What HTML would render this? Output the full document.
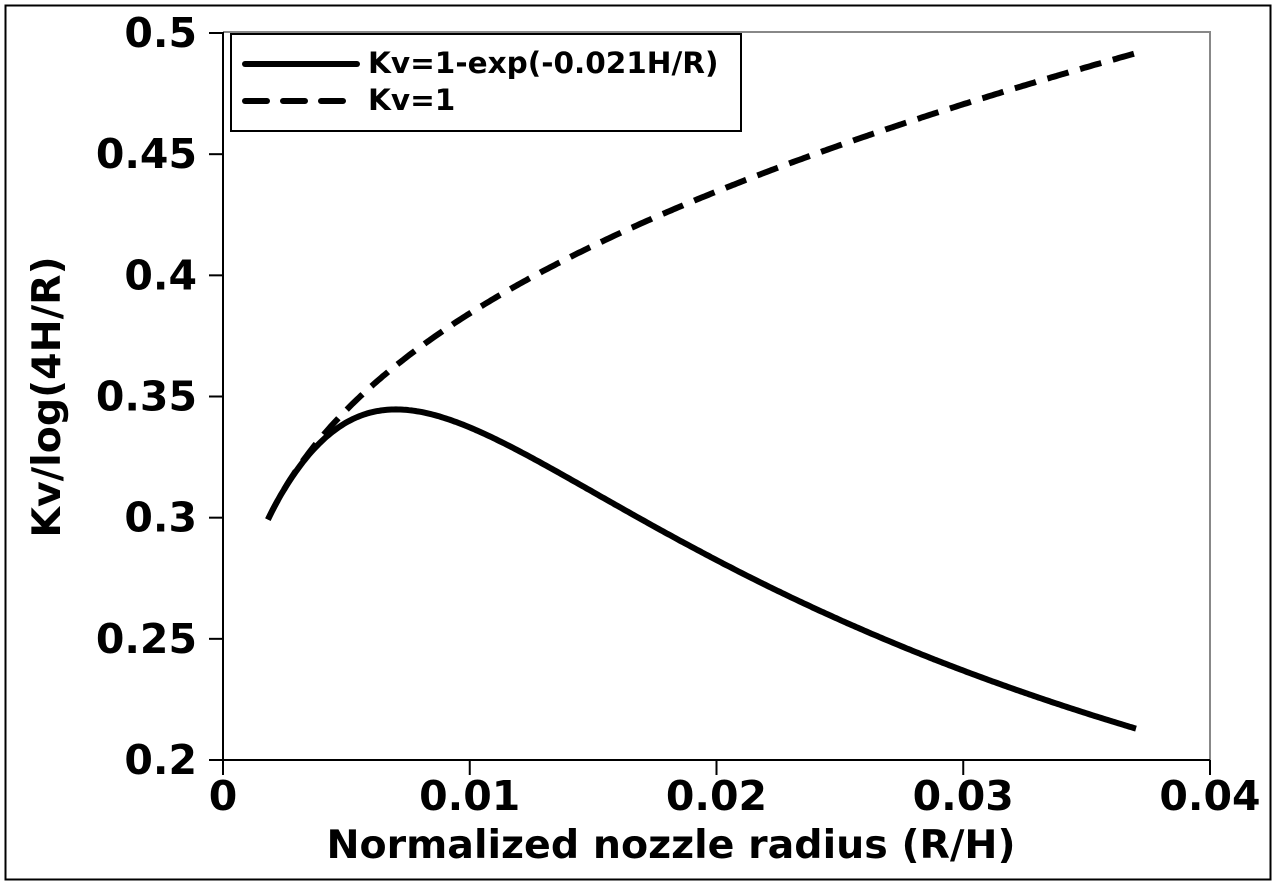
<!DOCTYPE html>
<html><head><style>body{margin:0;background:#fff}svg{display:block}text{font-family:"DejaVu Sans","Liberation Sans",sans-serif;font-weight:bold;fill:#000}</style></head>
<body>
<svg id="s" width="1277" height="886" xmlns="http://www.w3.org/2000/svg">
<rect x="5.5" y="5.5" width="1265" height="874" fill="none" stroke="#000" stroke-width="2"/>
<polyline points="223,32 1210,32 1210,760" fill="none" stroke="#888" stroke-width="2"/>
<line x1="223" y1="32" x2="223" y2="760" stroke="#000" stroke-width="2"/>
<line x1="209" y1="760" x2="1210" y2="760" stroke="#000" stroke-width="2"/>
<g id="ticks" stroke="#000" stroke-width="2"></g>
<g font-size="41" text-anchor="end" id="yl"></g>
<g font-size="41" text-anchor="middle" id="xl"></g>
<text x="671" y="858" font-size="39.5" text-anchor="middle">Normalized nozzle radius (R/H)</text>
<text transform="translate(60,397) rotate(-90)" font-size="39.5" text-anchor="middle">Kv/log(4H/R)</text>
<path id="p1" fill="none" stroke="#000" stroke-width="6"/>
<path id="p2" fill="none" stroke="#000" stroke-width="6" stroke-dasharray="22,12"/>
<rect x="231" y="34" width="510" height="97" fill="#fff" stroke="#000" stroke-width="2"/>
<line x1="245" y1="64" x2="357" y2="64" stroke="#000" stroke-width="6" stroke-linecap="round"/>
<line x1="245" y1="101" x2="357" y2="101" stroke="#000" stroke-width="6" stroke-dasharray="22,16" stroke-linecap="round"/>
<text x="368" y="73" font-size="29.5">Kv=1-exp(-0.021H/R)</text>
<text x="368" y="110" font-size="29.5">Kv=1</text>
</svg>
<script>
const X=v=>223+v*24675, Y=v=>760-(v-0.2)*2423.3;
let t='',yl='',xl='';
[0.2,0.25,0.3,0.35,0.4,0.45,0.5].forEach(v=>{t+=`<line x1="209" x2="223" y1="${Y(v)}" y2="${Y(v)}"/>`;yl+=`<text x="197" y="${Y(v)+14}">${v}</text>`;});
[0,0.01,0.02,0.03,0.04].forEach(v=>{t+=`<line x1="${X(v)}" x2="${X(v)}" y1="760" y2="775"/>`;xl+=`<text x="${X(v)}" y="810">${v}</text>`;});
document.getElementById('ticks').innerHTML=t;document.getElementById('yl').innerHTML=yl;document.getElementById('xl').innerHTML=xl;
let a='',b='';
for(let i=0;i<=400;i++){const x=0.00182+(0.037-0.00182)*i/400;const L=Math.log10(4/x);
a+=(i?'L':'M')+X(x).toFixed(1)+','+Y((1-Math.exp(-0.021/x))/L).toFixed(1);
b+=(i?'L':'M')+X(x).toFixed(1)+','+Y(1/L).toFixed(1);}
document.getElementById('p1').setAttribute('d',a);document.getElementById('p2').setAttribute('d',b);
</script>
</body></html>
